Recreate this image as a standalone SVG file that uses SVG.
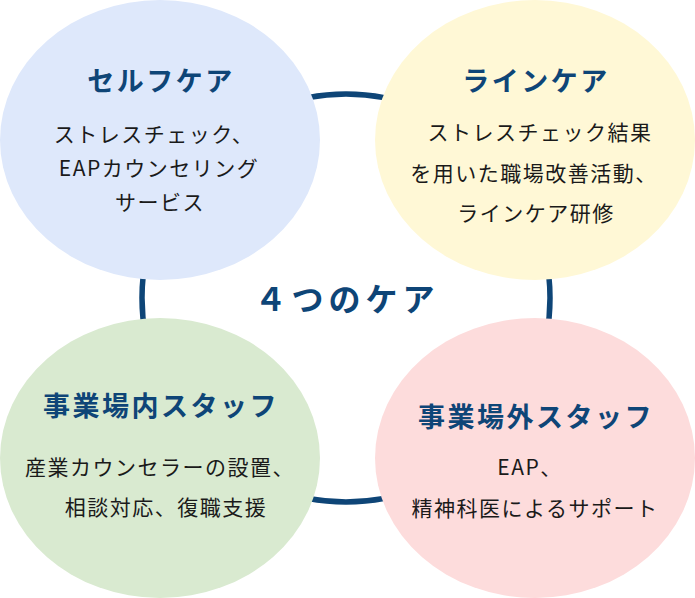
<svg xmlns="http://www.w3.org/2000/svg" width="695" height="598" viewBox="0 0 695 598">
<style>
.title{font-family:"Noto Sans CJK JP","Noto Sans",sans-serif;font-weight:bold;font-size:27px;fill:#0e4577;text-anchor:middle;letter-spacing:2.5px}
.body{font-family:"Noto Sans CJK JP","Noto Sans",sans-serif;font-size:21px;fill:#1a1a1a;text-anchor:middle;letter-spacing:1.5px}
.center{font-family:"Noto Sans CJK JP","Noto Sans",sans-serif;font-weight:bold;font-size:32px;fill:#0e4577;text-anchor:middle;letter-spacing:5px}
</style>
<rect width="695" height="598" fill="#ffffff"/>
<g id="connectors">
<circle cx="346" cy="298" r="204" fill="none" stroke="#0e4577" stroke-width="5.5"/>
</g>
<g id="self-care">
<ellipse cx="160" cy="140" rx="160" ry="140" fill="#dee8fb"/>
<text class="title" x="161" y="91">セルフケア</text>
<text class="body" x="154" y="142">ストレスチェック、</text>
<text class="body" x="159" y="176">EAPカウンセリング</text>
<text class="body" x="160" y="210">サービス</text>
</g>
<g id="line-care">
<ellipse cx="535" cy="140" rx="160" ry="140" fill="#fff8d6"/>
<text class="title" x="536" y="91">ラインケア</text>
<text class="body" x="540" y="140">ストレスチェック結果</text>
<text class="body" x="534" y="181">を用いた職場改善活動、</text>
<text class="body" x="536" y="221">ラインケア研修</text>
</g>
<g id="internal-staff">
<ellipse cx="160" cy="458" rx="160" ry="140" fill="#d9ead0"/>
<text class="title" x="161" y="416">事業場内スタッフ</text>
<text class="body" x="160" y="475">産業カウンセラーの設置、</text>
<text class="body" x="166" y="515">相談対応、復職支援</text>
</g>
<g id="external-staff">
<ellipse cx="535" cy="458" rx="160" ry="140" fill="#fddcdc"/>
<text class="title" x="536" y="427">事業場外スタッフ</text>
<text class="body" x="530" y="475">EAP、</text>
<text class="body" x="535" y="516">精神科医によるサポート</text>
</g>
<g id="center-label">
<text class="center" x="347" y="311">４つのケア</text>
</g>
</svg>
